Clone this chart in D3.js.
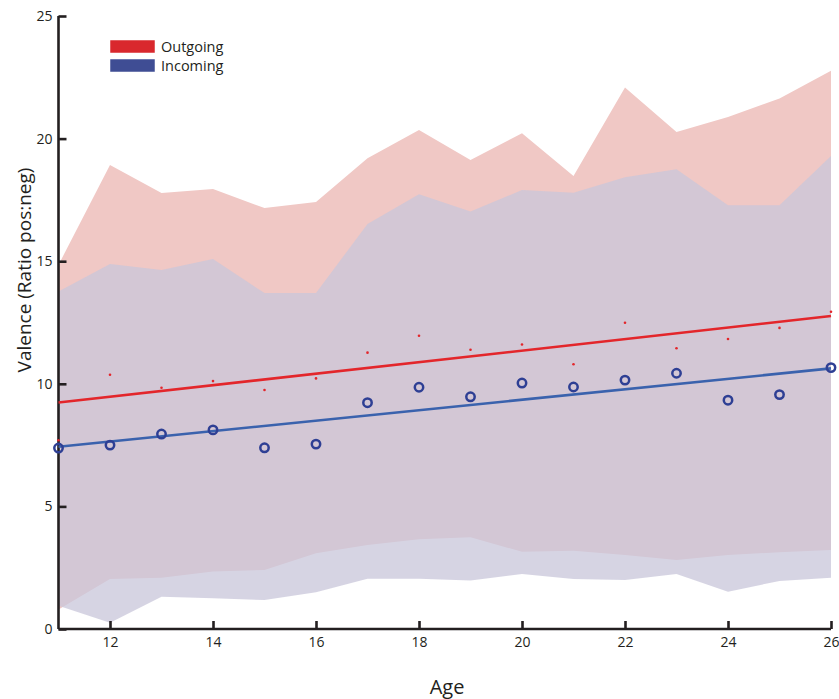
<!DOCTYPE html>
<html>
<head>
<meta charset="utf-8">
<script src="https://cdn.jsdelivr.net/npm/d3@7"></script>
<style>
  html, body { margin: 0; padding: 0; background: #fff; }
  svg { display: block; font-family: "Open Sans", "Noto Sans", sans-serif; }
</style>
</head>
<body>
<svg id="chart" width="839" height="699"></svg>
<script>
// Valence ratio (pos:neg) by age, outgoing vs incoming messages
const ages = [11, 12, 13, 14, 15, 16, 17, 18, 19, 20, 21, 22, 23, 24, 25, 26];

const outgoingMean  = [7.7, 10.37, 9.84, 10.11, 9.75, 10.22, 11.27, 11.96, 11.39, 11.6, 10.8, 12.49, 11.45, 11.83, 12.28, 12.94];
const outgoingUpper = [14.85, 18.92, 17.78, 17.94, 17.17, 17.41, 19.2, 20.35, 19.13, 20.22, 18.47, 22.08, 20.27, 20.88, 21.64, 22.77];
const outgoingLower = [0.8, 2.04, 2.09, 2.34, 2.41, 3.09, 3.43, 3.66, 3.74, 3.15, 3.19, 3.02, 2.81, 3.02, 3.13, 3.22];

const incomingMean  = [7.38, 7.5, 7.95, 8.12, 7.39, 7.54, 9.23, 9.86, 9.47, 10.03, 9.87, 10.15, 10.43, 9.33, 9.56, 10.66];
const incomingUpper = [13.76, 14.89, 14.64, 15.09, 13.7, 13.7, 16.52, 17.73, 17.03, 17.9, 17.79, 18.42, 18.75, 17.28, 17.28, 19.29];
const incomingLower = [0.95, 0.26, 1.32, 1.25, 1.18, 1.5, 2.05, 2.05, 1.98, 2.24, 2.04, 2.0, 2.24, 1.52, 1.96, 2.09];

const xTicks = [12, 14, 16, 18, 20, 22, 24, 26];
const yTicks = [0, 5, 10, 15, 20, 25];
const seriesNames = ["Outgoing", "Incoming"];

const svg = d3.select("#chart");
const x = d3.scaleLinear().domain([11, 26]).range([58.5, 831]);
const y = d3.scaleLinear().domain([0, 25]).range([629, 16]);

function band(upper, lower) {
  return d3.area()
    .x((d, i) => x(ages[i]))
    .y0((d, i) => y(lower[i]))
    .y1((d, i) => y(upper[i]))(ages);
}

// least-squares fit of a series against age
function fit(vals) {
  const mx = d3.mean(ages), my = d3.mean(vals);
  let sxy = 0, sxx = 0;
  ages.forEach((a, i) => { sxy += (a - mx) * (vals[i] - my); sxx += (a - mx) * (a - mx); });
  const b = sxy / sxx;
  return a => my + b * (a - mx);
}

// confidence bands
svg.append("path").attr("d", band(outgoingUpper, outgoingLower))
  .attr("fill", "rgb(240,200,197)");
svg.append("path").attr("d", band(incomingUpper, incomingLower))
  .attr("fill", "rgb(201,198,218)").attr("fill-opacity", 0.76);

// axes
const axisColor = "#231f20";
const yAxis = d3.axisLeft(y).tickValues(yTicks).tickSize(-8).tickPadding(6).tickFormat(d3.format("d"));
const xAxis = d3.axisBottom(x).tickValues(xTicks).tickSize(-8).tickPadding(8).tickFormat(d3.format("d"));

const gy = svg.append("g").attr("transform", `translate(${x(11)},0)`).call(yAxis);
const gx = svg.append("g").attr("transform", `translate(0,${y(0)})`).call(xAxis);
[gy, gx].forEach(g => {
  g.select(".domain").attr("stroke", axisColor).attr("stroke-width", 2.6);
  g.selectAll(".tick line").attr("stroke", axisColor).attr("stroke-width", 2.6);
  g.selectAll(".tick text").attr("fill", axisColor).attr("font-size", 14)
    .attr("font-family", "\"Open Sans\", sans-serif");
});
gy.select(".domain").attr("d", `M0,${y(25)}V${y(0)}`);
gx.select(".domain").attr("d", `M${x(11)},0H${x(26)}`);

// fit lines
const fitOut = fit(outgoingMean), fitIn = fit(incomingMean);
svg.append("line")
  .attr("x1", x(11)).attr("y1", y(fitOut(11)))
  .attr("x2", x(26)).attr("y2", y(fitOut(26)))
  .attr("stroke", "#e3262b").attr("stroke-width", 2.6);
svg.append("line")
  .attr("x1", x(11)).attr("y1", y(fitIn(11)))
  .attr("x2", x(26)).attr("y2", y(fitIn(26)))
  .attr("stroke", "#3a62ad").attr("stroke-width", 2.6);

// mean markers
svg.append("g").selectAll("circle").data(ages).join("circle")
  .attr("cx", a => x(a)).attr("cy", (a, i) => y(outgoingMean[i]))
  .attr("r", 1.3).attr("fill", "#e3262b");
svg.append("g").selectAll("circle").data(ages).join("circle")
  .attr("cx", a => x(a)).attr("cy", (a, i) => y(incomingMean[i]))
  .attr("r", 4.2).attr("fill", "none")
  .attr("stroke", "#2e3f94").attr("stroke-width", 2.5);

// legend
const legendColors = ["#d9282d", "#3f4d94"];
const lg = svg.append("g").attr("transform", "translate(110,40)");
seriesNames.forEach((name, i) => {
  lg.append("rect").attr("x", 0).attr("y", i * 19).attr("width", 45).attr("height", 13)
    .attr("fill", legendColors[i]).attr("stroke", "#ffffff").attr("stroke-width", 0.5);
  lg.append("text").attr("x", 51).attr("y", i * 19 + 12)
    .attr("font-size", 14.5).attr("fill", axisColor).text(name);
});

// axis titles
svg.append("text").attr("x", 447).attr("y", 694).attr("text-anchor", "middle")
  .attr("font-size", 20).attr("fill", axisColor).text("Age");
svg.append("text").attr("transform", "translate(31,270) rotate(-90)")
  .attr("text-anchor", "middle").attr("font-size", 19).attr("fill", axisColor)
  .text("Valence (Ratio pos:neg)");
</script>
</body>
</html>
